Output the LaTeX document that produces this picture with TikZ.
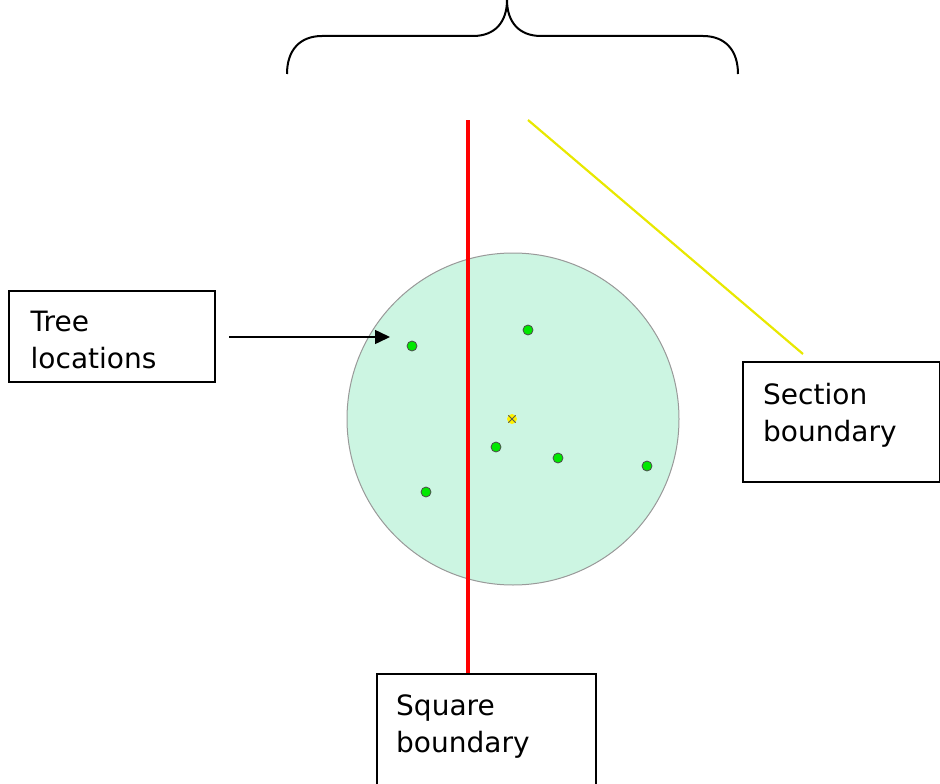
\documentclass[tikz,border=0pt]{standalone}
\usepackage{fontspec}
\newfontfamily\boxfont{DejaVu Sans}
\usetikzlibrary{arrows.meta}
\definecolor{plotfill}{RGB}{204,245,226}
\definecolor{treegreen}{RGB}{0,232,0}
\definecolor{sectionyellow}{RGB}{232,232,0}

\begin{document}
\begin{tikzpicture}[x=1pt,y=-1pt,
   labelbox/.style={draw,line width=1.5pt,inner sep=0pt,anchor=north west},
   labeltext/.style={font=\boxfont\fontsize{28}{37}\selectfont,align=left,
     inner sep=0pt,anchor=north west},
   treedot/.style={circle,fill=treegreen,draw=gray!60!black,line width=0.8pt,
     inner sep=0pt,minimum size=10pt}]
   \useasboundingbox (0,0) rectangle (940,784);
   \clip (0,0) rectangle (940,784);
   % brace over the plot
   \draw[line width=2pt,line join=round]
    (287,74) .. controls (287,50) and (300,36) .. (322,36) -- (473,36)
    .. controls (495,36) and (507,22) .. (507,0)
    .. controls (507,22) and (519,36) .. (541,36) -- (703,36)
    .. controls (725,36) and (738,50) .. (738,74);
   % plot circle
   \draw[fill=plotfill,draw=gray!80,line width=1pt] (513,419) circle (166);
   % boxes
   \node[labelbox,minimum width=206pt,minimum height=91pt] (treebox) at (8,290) {};
   \node[labelbox,minimum width=197pt,minimum height=120pt] (sectionbox) at (742,361) {};
   \node[labelbox,minimum width=219pt,minimum height=130pt] (squarebox) at (376,673) {};
   \node[labeltext] (treetext) at (30.5,311) {Tree\\locations};
   \node[labeltext] (sectiontext) at (763,383) {Section\\boundary};
   \node[labeltext] (squaretext) at (396,695) {Square\\boundary};
   % boundaries
   \coordinate (redtop) at (468,120);
   \coordinate (yellowtop) at (528,120);
   \coordinate (yellowend) at (803,354);
   \draw[red,line width=3.2pt] (redtop) -- (redtop |- squarebox.north);
   \draw[sectionyellow,line width=2.2pt] (yellowtop) -- (yellowend);
   % trees and centre
   \foreach \x/\y in {412/346,528/330,496/447,558/458,647/466,426/492}
    \node[treedot] (tree-\x) at (\x,\y) {};
   \node[circle,fill=yellow,inner sep=0pt,minimum size=10pt] (centre) at (512,419) {};
   \draw[gray!70!black,line width=0.8pt] (centre.north west) -- (centre.south east);
   \draw[gray!70!black,line width=0.8pt] (centre.north east) -- (centre.south west);
   % arrow to the trees
   \coordinate (treetail) at (229,337);
   \coordinate (treetip) at (390,337);
   \draw[line width=1.5pt,-{Triangle[length=15pt,width=14pt]}] (treetail) -- (treetip);
  \end{tikzpicture}
\end{document}
